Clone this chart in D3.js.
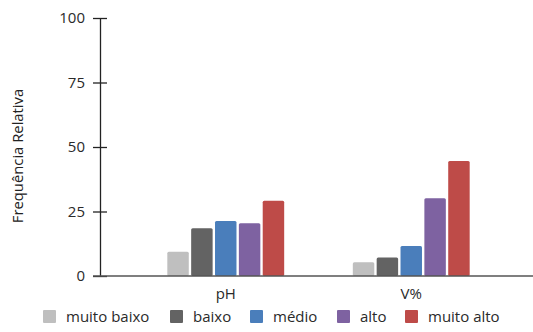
<!DOCTYPE html>
<html>
<head>
<meta charset="utf-8">
<script src="https://cdn.jsdelivr.net/npm/d3@7"></script>
<style>
  html, body { margin: 0; padding: 0; background: #fff; }
  svg { display: block; font-family: "Open Sans", "DejaVu Sans", sans-serif; }
</style>
</head>
<body>
<svg id="chart" width="533" height="332"></svg>
<script>
// Indicators on the x axis
const categories = ["pH", "V%"];
// Classes of each indicator (legend order)
const classes = ["muito baixo", "baixo", "médio", "alto", "muito alto"];
// Relative frequency (%) per class, one array per indicator
const valuesPH = [9.4, 18.5, 21.3, 20.4, 29.2];
const valuesV = [5.3, 7.2, 11.6, 30.1, 44.6];
const yTicks = [0, 25, 50, 75, 100];
const colors = ["#bfbfbf", "#636363", "#4a7ebb", "#7e62a1", "#be4b48"];

const seriesByCategory = { "pH": valuesPH, "V%": valuesV };

const svg = d3.select("#chart");
const axisX = 100, baseY = 276, topY = 18;

const y = d3.scaleLinear().domain([0, 100]).range([baseY, topY]);
const x0 = d3.scaleBand().domain(categories).range([133, 504]).paddingInner(0.37).paddingOuter(0.185);
const x1 = d3.scaleBand().domain(classes).range([0, x0.bandwidth()]).paddingInner(0.1);

// Bars
const groups = svg.append("g").selectAll("g")
  .data(categories).join("g")
  .attr("transform", d => `translate(${x0(d)},0)`);

groups.selectAll("rect")
  .data(cat => seriesByCategory[cat].map((v, i) => ({ cls: classes[i], v, i })))
  .join("rect")
  .attr("x", d => x1(d.cls))
  .attr("y", d => y(d.v))
  .attr("width", x1.bandwidth())
  .attr("height", d => baseY - y(d.v))
  .attr("rx", 1.5)
  .attr("fill", d => colors[d.i]);

// Y axis
const yAxis = d3.axisLeft(y).tickValues(yTicks).tickSize(0).tickPadding(15);
const gy = svg.append("g").attr("transform", `translate(${axisX},0)`).call(yAxis);
gy.select(".domain").attr("stroke", "#222").attr("stroke-width", 1.3);
gy.selectAll(".tick line").attr("x1", -7).attr("x2", 7).attr("stroke", "#222").attr("stroke-width", 1.3);
gy.selectAll(".tick text")
  .attr("font-size", 15).attr("fill", "#2a2a2a")
  .attr("font-family", "'Open Sans', sans-serif");

// Baseline / x axis
const xAxis = d3.axisBottom(x0).tickSize(0).tickPadding(12);
const gx = svg.append("g").attr("transform", `translate(0,${baseY})`).call(xAxis);
gx.select(".domain").remove();
gx.append("line").attr("x1", axisX - 7).attr("x2", 533).attr("y1", 0).attr("y2", 0)
  .attr("stroke", "#555").attr("stroke-width", 1.6);
gx.selectAll(".tick text").attr("font-size", 15).attr("fill", "#2a2a2a")
  .attr("font-family", "'Open Sans', sans-serif");

// Y axis title
svg.append("text")
  .attr("transform", `translate(23,156) rotate(-90)`)
  .attr("text-anchor", "middle")
  .attr("font-size", 14.8)
  .attr("fill", "#222")
  .text("Frequência Relativa");

// Legend
const legendX = [43, 170, 250, 337, 405];
const legend = svg.append("g").selectAll("g")
  .data(classes).join("g")
  .attr("transform", (d, i) => `translate(${legendX[i]},310)`);
legend.append("rect").attr("width", 13).attr("height", 13).attr("rx", 1).attr("fill", (d, i) => colors[i]);
legend.append("text").attr("x", 23).attr("y", 11.5).attr("font-size", 15).attr("fill", "#2a2a2a").text(d => d);
</script>
</body>
</html>
